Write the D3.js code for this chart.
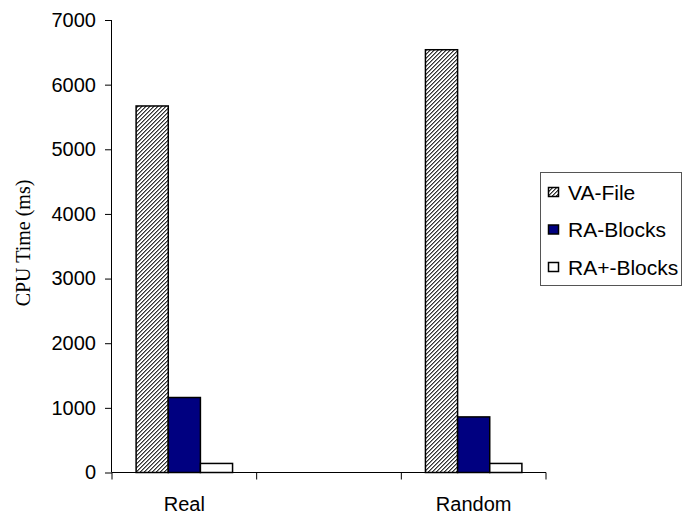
<!DOCTYPE html>
<html>
<head>
<meta charset="utf-8">
<script src="https://cdn.jsdelivr.net/npm/d3@7"></script>
<style>
  html, body { margin: 0; padding: 0; background: #fff; }
  svg { display: block; }
  text { font-family: Arial, "Liberation Sans", sans-serif; fill: #000; }
</style>
</head>
<body>
<svg id="chart" width="682" height="516"></svg>
<script>
// Category slots along the x axis (the middle slot is left empty)
const categories = ["Real", "", "Random"];
const seriesNames = ["VA-File", "RA-Blocks", "RA+-Blocks"];
const vaFile   = [5670, null, 6540];
const raBlocks = [1160, null, 860];
const raPlus   = [140, null, 140];
const yTicks = [0, 1000, 2000, 3000, 4000, 5000, 6000, 7000];

const series = [vaFile, raBlocks, raPlus];

const svg = d3.select("#chart");
const defs = svg.append("defs");

// Fine pixel diagonal hatch ("/") used for the VA-File bars
const pat = defs.append("pattern")
  .attr("id", "hatch")
  .attr("patternUnits", "userSpaceOnUse")
  .attr("width", 4).attr("height", 4);
pat.append("rect").attr("width", 4).attr("height", 4).attr("fill", "#fff");
d3.range(4).forEach(r => {
  pat.append("rect").attr("x", (3 - r + 4) % 4).attr("y", r).attr("width", 1).attr("height", 1)
    .attr("fill", "#333").attr("shape-rendering", "crispEdges");
  pat.append("rect").attr("x", (4 - r) % 4).attr("y", r).attr("width", 1).attr("height", 1)
    .attr("fill", "#8a8a8a").attr("shape-rendering", "crispEdges");
});

const fills = ["url(#hatch)", "#000080", "#ffffff"];

const plot = { left: 112, right: 546, top: 20, bottom: 472.5 };

const x = d3.scaleBand().domain(categories).range([plot.left, plot.right]).padding(0);
const inner = d3.scaleBand().domain(seriesNames)
  .range([x.bandwidth() / 6, x.bandwidth() * 5 / 6]).padding(0);
const y = d3.scaleLinear().domain([0, 7000]).range([plot.bottom, plot.top]);

// Bars
const g = svg.append("g");
series.forEach((vals, si) => {
  g.selectAll(null)
    .data(categories.map((c, i) => ({ c, v: vals[i] })).filter(d => d.v != null))
    .join("rect")
    .attr("x", d => x(d.c) + inner(seriesNames[si]))
    .attr("y", d => y(d.v))
    .attr("width", inner.bandwidth())
    .attr("height", d => y(0) - y(d.v))
    .attr("fill", fills[si])
    .attr("stroke", "#000")
    .attr("stroke-width", 1.5);
});

// Y axis
const yAxis = d3.axisLeft(y).tickValues(yTicks).tickSize(7).tickPadding(9).tickFormat(d3.format("d"));
const yg = svg.append("g").attr("transform", `translate(${plot.left},0)`).call(yAxis);
yg.select(".domain").attr("d", `M-0.5,${y(7000)}V${y(0)}`).attr("stroke", "#000");
yg.selectAll(".tick line").attr("stroke", "#000");
yg.selectAll(".tick text").style("font-size", "20px").style("font-family", "Arial, 'Liberation Sans', sans-serif");

// X axis: ticks at slot boundaries, labels centred in each slot
const xg = svg.append("g");
xg.append("line")
  .attr("x1", plot.left).attr("x2", plot.right)
  .attr("y1", y(0)).attr("y2", y(0))
  .attr("stroke", "#000");
const bounds = categories.map(c => x(c)).concat([x(categories[categories.length - 1]) + x.bandwidth()]);
xg.selectAll(".xtick").data(bounds).join("line")
  .attr("x1", d => d).attr("x2", d => d)
  .attr("y1", y(0)).attr("y2", y(0) + 7)
  .attr("stroke", "#000");
xg.selectAll(".xlabel").data(categories.filter(c => c !== "")).join("text")
  .attr("x", d => x(d) + x.bandwidth() / 2)
  .attr("y", 510.5)
  .attr("text-anchor", "middle")
  .style("font-size", "20px")
  .text(d => d);

// Y axis title
svg.append("text")
  .attr("transform", `translate(30,243) rotate(-90)`)
  .attr("text-anchor", "middle")
  .style("font-family", "'Liberation Serif', 'Times New Roman', serif")
  .style("font-size", "20px")
  .text("CPU Time (ms)");

// Legend
const lg = svg.append("g");
lg.append("rect")
  .attr("x", 540.5).attr("y", 172.5)
  .attr("width", 141).attr("height", 113)
  .attr("fill", "#fff").attr("stroke", "#555").attr("stroke-width", 1);
seriesNames.forEach((name, i) => {
  const cy = 192 + i * 37.5;
  lg.append("rect")
    .attr("x", 548.5).attr("y", cy - 4.5)
    .attr("width", 10).attr("height", 9)
    .attr("fill", fills[i]).attr("stroke", "#000").attr("stroke-width", 1.5);
  lg.append("text")
    .attr("x", 568).attr("y", cy)
    .attr("dy", "0.36em")
    .style("font-size", "21px")
    .text(name);
});
</script>
</body>
</html>
